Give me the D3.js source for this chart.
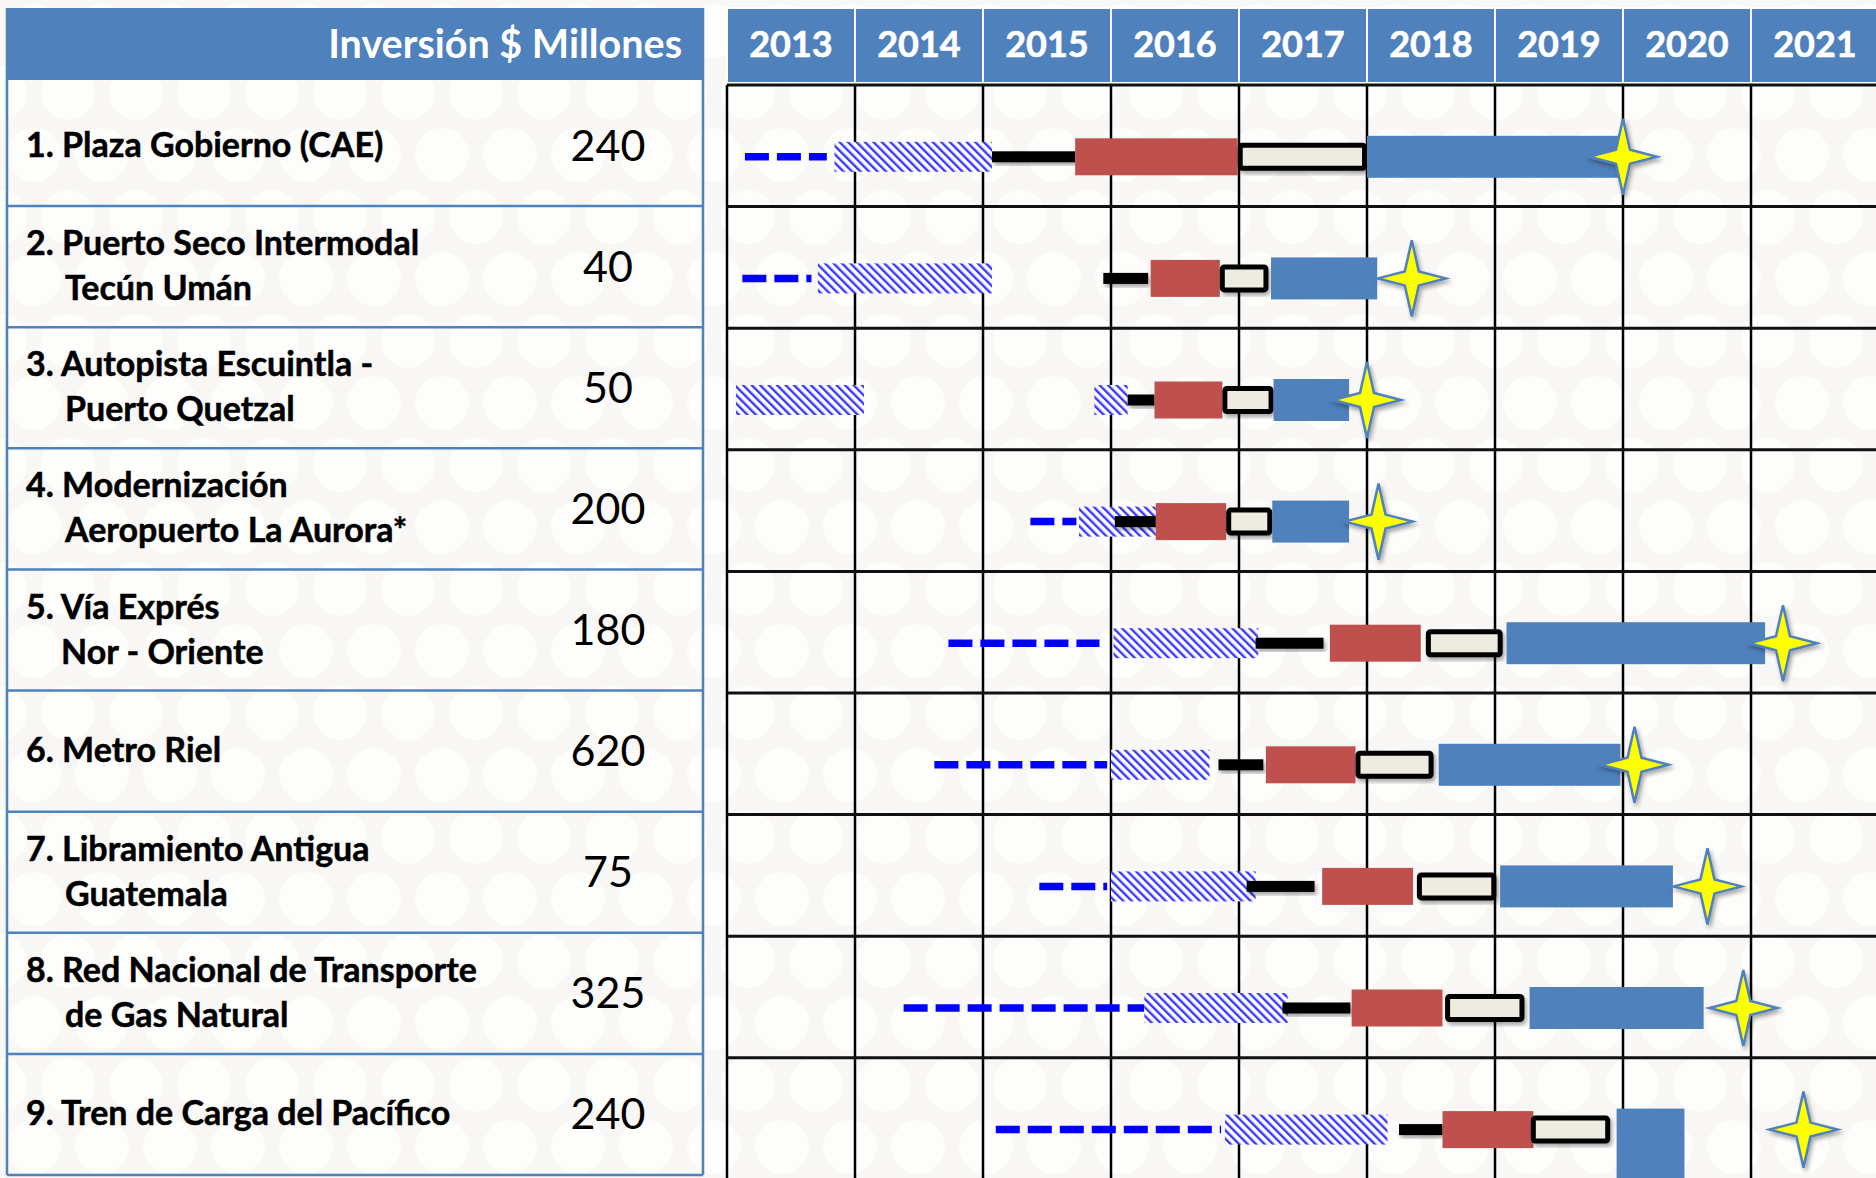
<!DOCTYPE html>
<html>
<head>
<meta charset="utf-8">
<script src="https://cdn.jsdelivr.net/npm/d3@7"></script>
<style>
  body { margin: 0; background: #f9f7f5; }
  svg { display: block; }
</style>
</head>
<body>
<div class="view"></div>
<script>
var width = 1876, height = 1178;

// years shown in the gantt header
var years = [2013, 2014, 2015, 2016, 2017, 2018, 2019, 2020, 2021];

// project names (one entry per line) and investment in $ millions
var projects = [
    ["1. Plaza Gobierno (CAE)"],
    ["2. Puerto Seco Intermodal", "Tecún Umán"],
    ["3. Autopista Escuintla -", "Puerto Quetzal"],
    ["4. Modernización", "Aeropuerto La Aurora*"],
    ["5. Vía Exprés", "Nor - Oriente"],
    ["6. Metro Riel"],
    ["7. Libramiento Antigua", "Guatemala"],
    ["8. Red Nacional de Transporte", "de Gas Natural"],
    ["9. Tren de Carga del Pacífico"]
];
var investment = [240, 40, 50, 200, 180, 620, 75, 325, 240];

// phases: [row, start year, end year]
var prestudy = [[0, 2013.14, 2013.78], [1, 2013.12, 2013.66], [3, 2015.37, 2015.73], [4, 2014.73, 2015.91],
    [5, 2014.62, 2015.97], [6, 2015.44, 2015.97], [7, 2014.38, 2016.26], [8, 2015.10, 2016.86]];
var studies = [[0, 2013.84, 2015.07], [1, 2013.71, 2015.07], [2, 2013.07, 2014.07], [2, 2015.87, 2016.13],
    [3, 2015.75, 2016.35], [4, 2016.02, 2017.15], [5, 2016.00, 2016.77], [6, 2016.00, 2017.13],
    [7, 2016.26, 2017.38], [8, 2016.89, 2018.16]];
var tender = [[0, 2015.07, 2015.72], [1, 2015.94, 2016.29], [2, 2016.13, 2016.34], [3, 2016.03, 2016.35],
    [4, 2017.13, 2017.66], [5, 2016.84, 2017.19], [6, 2017.06, 2017.59], [7, 2017.34, 2017.87], [8, 2018.25, 2018.59]];
var award = [[0, 2015.72, 2016.99], [1, 2016.31, 2016.85], [2, 2016.34, 2016.87], [3, 2016.35, 2016.90],
    [4, 2017.71, 2018.42], [5, 2017.21, 2017.91], [6, 2017.65, 2018.36], [7, 2017.88, 2018.59], [8, 2018.59, 2019.30]];
var design = [[0, 2016.99, 2018.00], [1, 2016.85, 2017.23], [2, 2016.87, 2017.27], [3, 2016.90, 2017.26],
    [4, 2018.46, 2019.06], [5, 2017.91, 2018.52], [6, 2018.39, 2019.01], [7, 2018.61, 2019.23], [8, 2019.28, 2019.90]];
var build = [[0, 2018.00, 2020.00], [1, 2017.25, 2018.08], [2, 2017.27, 2017.86], [3, 2017.26, 2017.86],
    [4, 2019.09, 2021.11], [5, 2018.56, 2019.98], [6, 2019.04, 2020.39], [7, 2019.27, 2020.63], [8, 2019.95, 2020.48]];
var finish = [2020.00, 2018.35, 2018.00, 2018.09, 2021.25, 2020.09, 2020.66, 2020.94, 2021.41];

var svg = d3.select(".view").append("svg")
    .attr("width", width)
    .attr("height", height)
    .style("font-family", "Lato, 'Open Sans', sans-serif");

var defs = svg.append("defs");

// faint bokeh background
var bg = defs.append("pattern").attr("id", "bokeh")
    .attr("patternUnits", "userSpaceOnUse").attr("width", 136).attr("height", 124);
bg.append("rect").attr("width", 136).attr("height", 124).attr("fill", "#f9f7f5");
[[34, 31], [102, 31], [0, 93], [68, 93], [136, 93]].forEach(function (c) {
    bg.append("circle").attr("cx", c[0]).attr("cy", c[1]).attr("r", 27)
        .attr("fill", "#ffffff").attr("opacity", 0.7);
});

// blue diagonal hatch
var hatch = defs.append("pattern").attr("id", "hatch")
    .attr("patternUnits", "userSpaceOnUse").attr("width", 6).attr("height", 6)
    .attr("patternTransform", "rotate(-45)");
hatch.append("rect").attr("width", 6).attr("height", 6).attr("fill", "#ffffff");
hatch.append("rect").attr("width", 2.4).attr("height", 6).attr("fill", "#3a3af5");

var shadow = defs.append("filter").attr("id", "shadow")
    .attr("x", "-30%").attr("y", "-30%").attr("width", "160%").attr("height", "160%");
shadow.append("feDropShadow").attr("dx", 2).attr("dy", 3).attr("stdDeviation", 2)
    .attr("flood-color", "#000").attr("flood-opacity", 0.35);

svg.append("rect").attr("width", width).attr("height", height).attr("fill", "url(#bokeh)");

// ---------- left table ----------
var tableLeft = 7, tableRight = 703;
var rowsL = d3.scaleBand().domain(d3.range(projects.length)).range([85, 1175]);

svg.append("rect")
    .attr("x", tableLeft).attr("y", 8)
    .attr("width", tableRight - tableLeft).attr("height", 72)
    .attr("fill", "#4f81bd");

svg.append("text")
    .attr("x", 682).attr("y", 58)
    .attr("text-anchor", "end")
    .attr("fill", "#fff").attr("font-weight", "bold").attr("font-size", 39.5)
    .text("Inversión $ Millones");

var rowsG = svg.append("g");
rowsG.selectAll("line.sep")
    .data(d3.range(1, projects.length + 1))
    .enter().append("line")
    .attr("x1", tableLeft).attr("x2", tableRight)
    .attr("y1", function (d) { return rowsL(d - 1) + rowsL.bandwidth(); })
    .attr("y2", function (d) { return rowsL(d - 1) + rowsL.bandwidth(); })
    .attr("stroke", "#4f81bd").attr("stroke-width", 2.5);

[tableLeft, tableRight].forEach(function (x) {
    svg.append("line").attr("x1", x).attr("x2", x).attr("y1", 8).attr("y2", 1175)
        .attr("stroke", "#4f81bd").attr("stroke-width", 2.5);
});

projects.forEach(function (lines, i) {
    var cy = rowsL(i) + rowsL.bandwidth() / 2;
    lines.forEach(function (t, j) {
        var dy = lines.length == 1 ? 0 : (j == 0 ? -22.5 : 22.5);
        svg.append("text")
            .attr("x", j == 0 ? 26 : (i == 4 ? 61 : 65))
            .attr("y", cy + dy + 11)
            .attr("font-weight", "bold").attr("font-size", 34)
            .attr("fill", "#000")
            .attr("stroke", "#000").attr("stroke-width", 0.5)
            .text(t);
    });
    svg.append("text")
        .attr("x", 608).attr("y", cy + 15)
        .attr("text-anchor", "middle")
        .attr("font-size", 43).attr("fill", "#000")
        .text(investment[i]);
});

// ---------- gantt ----------
var x = d3.scaleLinear().domain([2013, 2022]).range([727, 727 + 9 * 128]);
var y = d3.scaleBand().domain(d3.range(projects.length)).range([85, 85 + 9 * 121.6]);
var offset = 11; // bars sit a little below the row middle
function cy(r) { return y(r) + y.bandwidth() / 2 + offset; }

// header cells
svg.selectAll("rect.year")
    .data(years)
    .enter().append("rect")
    .attr("x", function (d) { return x(d); })
    .attr("y", 8)
    .attr("width", function (d) { return x(d + 1) - x(d); })
    .attr("height", 75)
    .attr("fill", "#4f81bd")
    .attr("stroke", "#fff").attr("stroke-width", 2);

svg.selectAll("text.year")
    .data(years)
    .enter().append("text")
    .attr("x", function (d) { return x(d + 0.5); })
    .attr("y", 57)
    .attr("text-anchor", "middle")
    .attr("fill", "#fff").attr("font-weight", "bold").attr("font-size", 36)
    .attr("stroke", "#fff").attr("stroke-width", 0.6)
    .text(function (d) { return d; });

// grid
svg.selectAll("line.vgrid")
    .data(years)
    .enter().append("line")
    .attr("x1", function (d) { return x(d); })
    .attr("x2", function (d) { return x(d); })
    .attr("y1", 85).attr("y2", height)
    .attr("stroke", "#000").attr("stroke-width", 2.5);

svg.selectAll("line.hgrid")
    .data(d3.range(projects.length))
    .enter().append("line")
    .attr("x1", x(2013)).attr("x2", width)
    .attr("y1", function (d) { return y(d); })
    .attr("y2", function (d) { return y(d); })
    .attr("stroke", "#111").attr("stroke-width", 3);

var bars = svg.append("g");

// dashed pre-study
bars.selectAll("line.pre")
    .data(prestudy)
    .enter().append("line")
    .attr("x1", function (d) { return x(d[1]); })
    .attr("x2", function (d) { return x(d[2]); })
    .attr("y1", function (d) { return cy(d[0]); })
    .attr("y2", function (d) { return cy(d[0]); })
    .attr("stroke", "#0000ff").attr("stroke-width", 7.5)
    .attr("stroke-dasharray", "24,8");

function block(data, h, fill) {
    return bars.append("g").selectAll("rect")
        .data(data)
        .enter().append("rect")
        .attr("x", function (d) { return x(d[1]); })
        .attr("width", function (d) { return x(d[2]) - x(d[1]); })
        .attr("y", function (d) { return cy(d[0]) - h / 2; })
        .attr("height", h)
        .attr("fill", fill);
}

block(studies, 30, "url(#hatch)");
block(tender, 11, "#000").attr("filter", "url(#shadow)");
block(award, 37, "#c0504d");

// cream boxes with heavy black outline
bars.append("g").selectAll("rect")
    .data(design)
    .enter().append("rect")
    .attr("x", function (d) { return x(d[1]) + 2.5; })
    .attr("width", function (d) { return x(d[2]) - x(d[1]) - 5; })
    .attr("y", function (d) { return cy(d[0]) - 14 + 2.5; })
    .attr("height", 23)
    .attr("rx", 2)
    .attr("fill", "#eeece1")
    .attr("stroke", "#000").attr("stroke-width", 5)
    .attr("filter", "url(#shadow)");

// construction (the last one runs off the bottom)
block(build, 42, "#4f81bd")
    .attr("height", function (d) { return d[0] == projects.length - 1 ? height - (cy(d[0]) - 21) : 42; });

// yellow 4-point stars at completion
var star = "M0,-38L7,-7L34,0L7,7L0,38L-7,7L-34,0L-7,-7Z";
bars.selectAll("path.star")
    .data(finish)
    .enter().append("path")
    .attr("d", star)
    .attr("transform", function (d, i) { return "translate(" + x(d) + "," + cy(i) + ")"; })
    .attr("fill", "#ffff00")
    .attr("stroke", "#4f81bd").attr("stroke-width", 2.5)
    .attr("stroke-linejoin", "miter")
    .attr("filter", "url(#shadow)");
</script>
</body>
</html>
